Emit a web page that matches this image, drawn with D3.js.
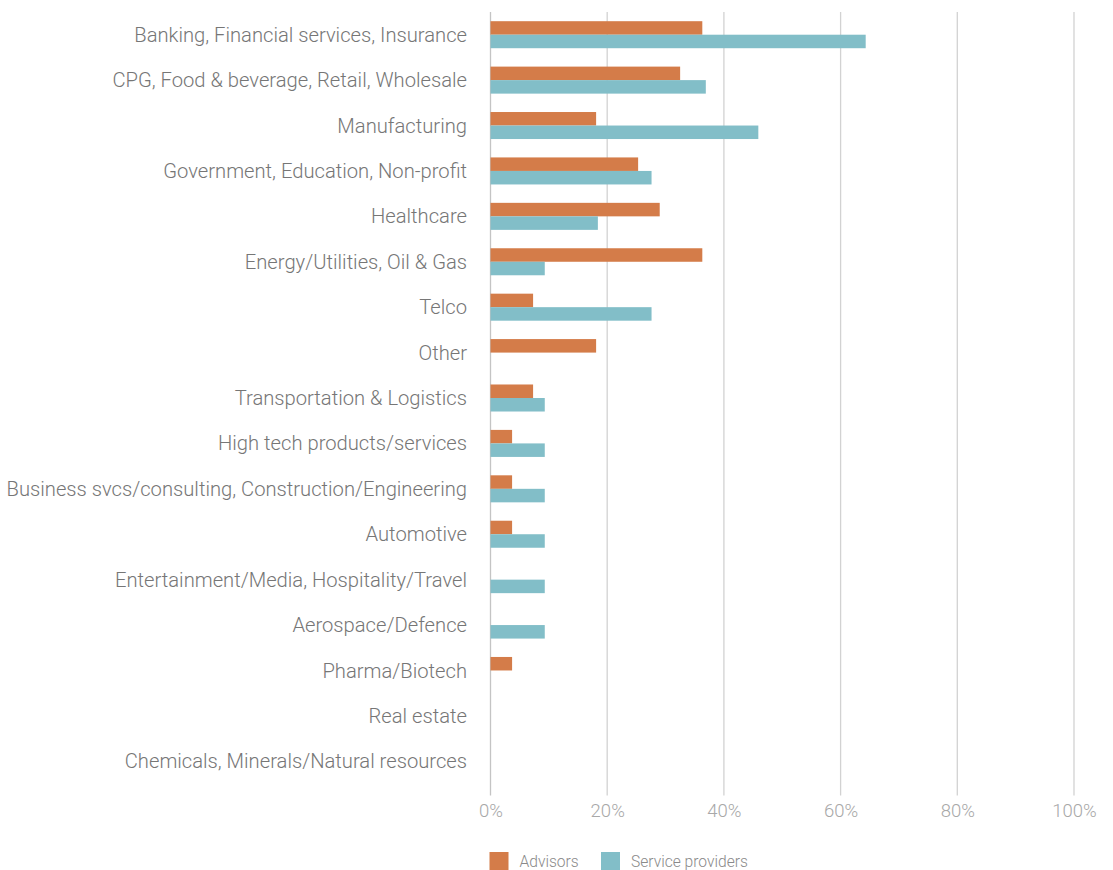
<!DOCTYPE html>
<html>
<head>
<meta charset="utf-8">
<script src="https://cdn.jsdelivr.net/npm/d3@7"></script>
<style>
  html, body { margin: 0; padding: 0; background: #fff; }
  svg { display: block; font-family: Roboto, "Helvetica Neue", Arial, sans-serif; font-weight: 300; }
</style>
</head>
<body>
<svg id="chart" width="1113" height="870"></svg>
<script>
// Industries, top to bottom
const industries = [
  "Banking, Financial services, Insurance",
  "CPG, Food & beverage, Retail, Wholesale",
  "Manufacturing",
  "Government, Education, Non-profit",
  "Healthcare",
  "Energy/Utilities, Oil & Gas",
  "Telco",
  "Other",
  "Transportation & Logistics",
  "High tech products/services",
  "Business svcs/consulting, Construction/Engineering",
  "Automotive",
  "Entertainment/Media, Hospitality/Travel",
  "Aerospace/Defence",
  "Pharma/Biotech",
  "Real estate",
  "Chemicals, Minerals/Natural resources"
];

// Share of respondents (%)
const advisors = [36.3, 32.5, 18.1, 25.3, 29.0, 36.3, 7.3, 18.1, 7.3, 3.7, 3.7, 3.7, 0, 0, 3.7, 0, 0];
const serviceProviders = [64.3, 36.9, 45.9, 27.6, 18.4, 9.3, 27.6, 0, 9.3, 9.3, 9.3, 9.3, 9.3, 9.3, 0, 0, 0];

const xTicks = [0, 20, 40, 60, 80, 100];

const seriesNames = ["Advisors", "Service providers"];
const seriesColors = ["#d47c49", "#82bec8"];

const svg = d3.select("#chart");
const plotLeft = 490.5, plotRight = 1074, plotTop = 12, plotBottom = 784;

const x = d3.scaleLinear().domain([0, 100]).range([plotLeft, plotRight]);
const y = d3.scaleBand().domain(industries).range([plotTop, plotBottom]).paddingInner(0.405).paddingOuter(0.2025);
const barH = y.bandwidth() / 2;

// Vertical gridlines
svg.append("g")
  .selectAll("line")
  .data(xTicks)
  .join("line")
  .attr("x1", d => x(d)).attr("x2", d => x(d))
  .attr("y1", plotTop).attr("y2", 795.5)
  .attr("stroke", d => d === 0 ? "#c4c4c4" : "#d2d2d2")
  .attr("stroke-width", 1.3);

// Bars
const rows = industries.map((name, i) => ({ name, vals: [advisors[i], serviceProviders[i]] }));
const g = svg.append("g");
rows.forEach(r => {
  r.vals.forEach((v, k) => {
    if (v <= 0) return;
    g.append("rect")
      .attr("x", x(0))
      .attr("y", y(r.name) + k * barH)
      .attr("width", x(v) - x(0))
      .attr("height", barH)
      .attr("fill", seriesColors[k]);
  });
});

// Category labels
svg.append("g")
  .selectAll("text")
  .data(industries)
  .join("text")
  .attr("x", 467)
  .attr("y", d => y(d) + y.bandwidth() / 2)
  .attr("dy", "0.35em")
  .attr("text-anchor", "end")
  .attr("fill", "#767676")
  .attr("font-size", 20.2)
  .text(d => d);

// X axis labels
const xAxis = d3.axisBottom(x).tickValues(xTicks).tickFormat(d => d + "%").tickSize(0).tickPadding(0);
const ax = svg.append("g").attr("transform", `translate(0, 804)`).call(xAxis);
ax.select(".domain").remove();
ax.selectAll("text")
  .attr("fill", "#a8a8a8")
  .attr("font-size", 18.5)
  .attr("font-family", "Roboto, sans-serif")
  .attr("font-weight", 300);

// Legend
const legend = svg.append("g");
const legendX = [489.5, 601];
seriesNames.forEach((name, k) => {
  legend.append("rect")
    .attr("x", legendX[k]).attr("y", 852)
    .attr("width", 19).attr("height", 19)
    .attr("fill", seriesColors[k]);
  legend.append("text")
    .attr("x", legendX[k] + 30).attr("y", 861.5)
    .attr("dy", "0.35em")
    .attr("fill", "#8a8a8a")
    .attr("font-size", 15.6)
    .text(name);
});
</script>
</body>
</html>
